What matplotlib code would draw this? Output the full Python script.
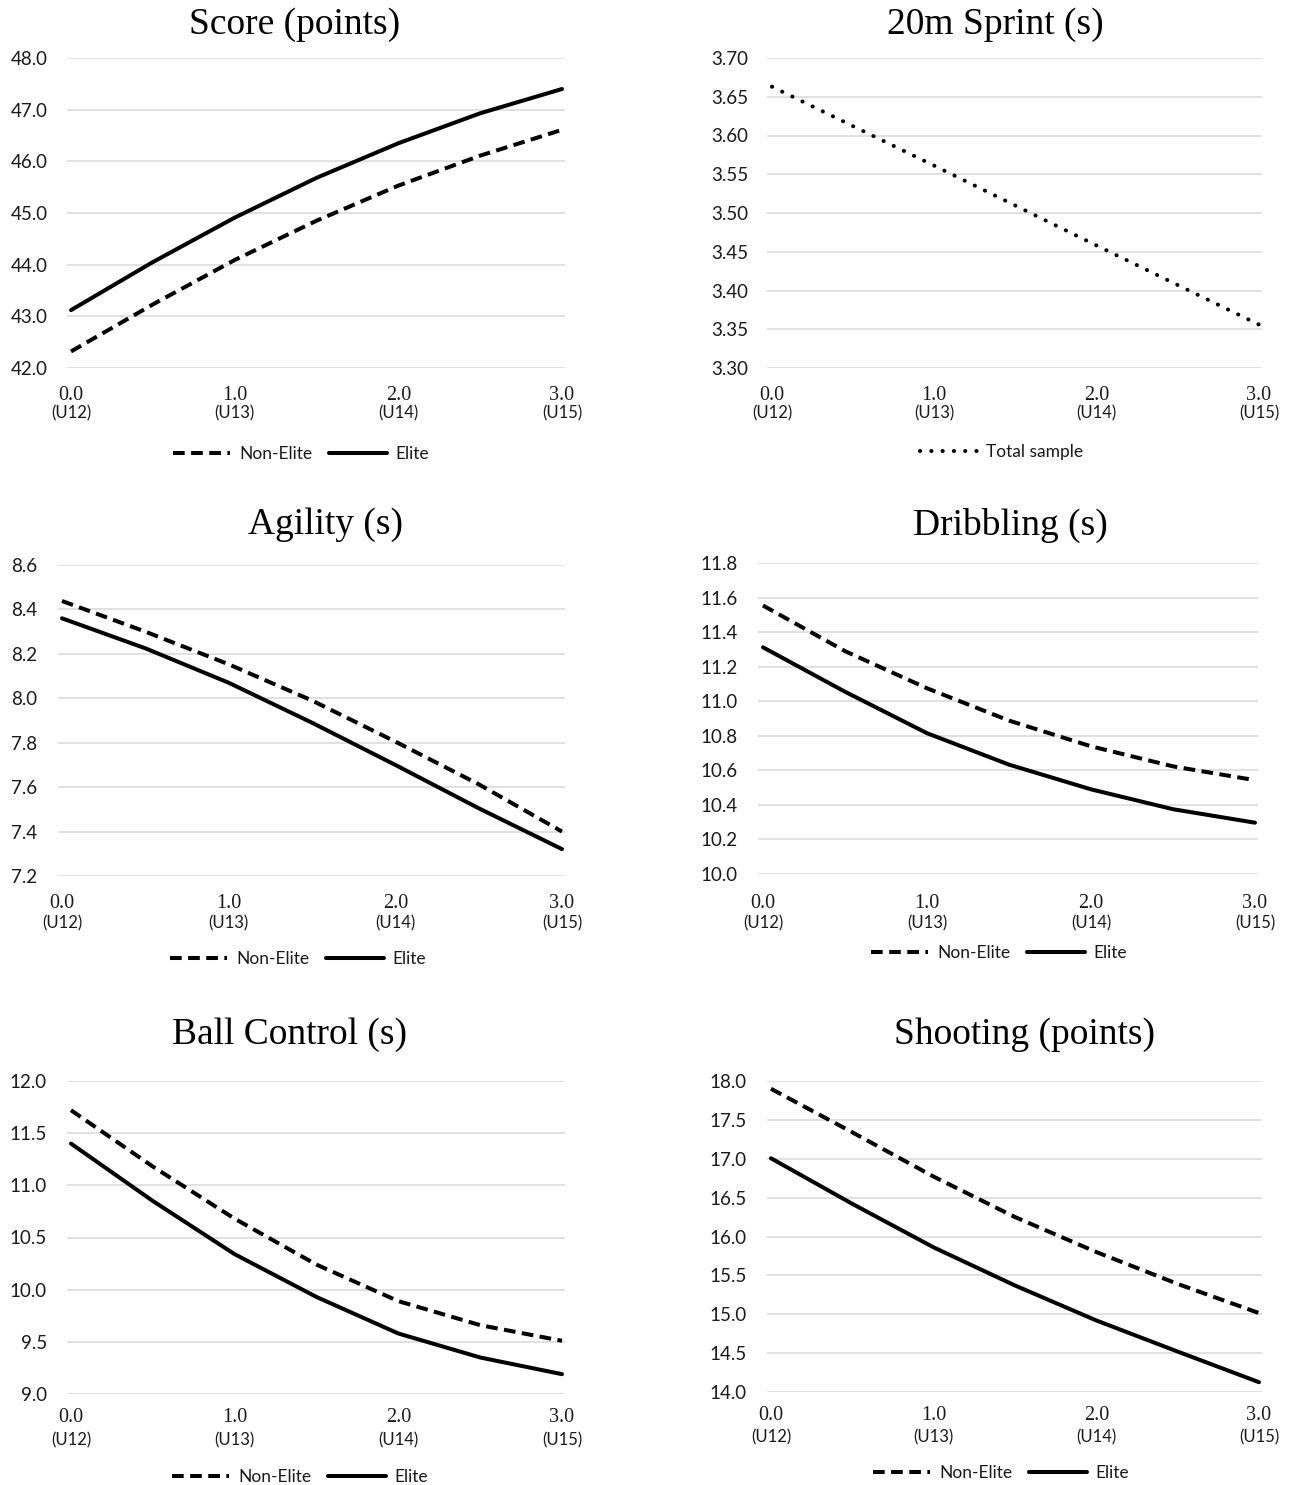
import matplotlib
matplotlib.use("Agg")
import matplotlib.pyplot as plt
from matplotlib.transforms import blended_transform_factory

W, H = 1303, 1485

# ---------------- data ----------------
x_age = [0.0, 0.5, 1.0, 1.5, 2.0, 2.5, 3.0]
xtick_values = [0, 1, 2, 3]
xtick_top = ["0.0", "1.0", "2.0", "3.0"]
xtick_bottom = ["(U12)", "(U13)", "(U14)", "(U15)"]

score_nonelite = [42.32, 43.23, 44.09, 44.85, 45.53, 46.11, 46.61]
score_elite = [43.12, 44.05, 44.91, 45.68, 46.35, 46.93, 47.40]

sprint_x = [0.0, 1.0, 2.0, 3.0]
sprint_total = [3.663, 3.561, 3.458, 3.356]

agility_nonelite = [8.438, 8.300, 8.153, 7.990, 7.805, 7.613, 7.400]
agility_elite = [8.360, 8.225, 8.070, 7.890, 7.700, 7.505, 7.321]

dribbling_nonelite = [11.554, 11.290, 11.075, 10.888, 10.739, 10.623, 10.543]
dribbling_elite = [11.312, 11.055, 10.815, 10.633, 10.490, 10.375, 10.297]

ballcontrol_nonelite = [11.72, 11.18, 10.68, 10.24, 9.89, 9.66, 9.51]
ballcontrol_elite = [11.40, 10.85, 10.34, 9.93, 9.58, 9.35, 9.19]

shooting_nonelite = [17.90, 17.34, 16.77, 16.25, 15.80, 15.39, 15.015]
shooting_elite = [17.006, 16.42, 15.86, 15.37, 14.92, 14.52, 14.126]

titles = ["Score (points)", "20m Sprint (s)", "Agility (s)", "Dribbling (s)",
          "Ball Control (s)", "Shooting (points)"]
yticks_score = [42.0, 43.0, 44.0, 45.0, 46.0, 47.0, 48.0]
yticks_sprint = [3.30, 3.35, 3.40, 3.45, 3.50, 3.55, 3.60, 3.65, 3.70]
yticks_agility = [7.2, 7.4, 7.6, 7.8, 8.0, 8.2, 8.4, 8.6]
yticks_dribbling = [10.0, 10.2, 10.4, 10.6, 10.8, 11.0, 11.2, 11.4, 11.6, 11.8]
yticks_ballcontrol = [9.0, 9.5, 10.0, 10.5, 11.0, 11.5, 12.0]
yticks_shooting = [14.0, 14.5, 15.0, 15.5, 16.0, 16.5, 17.0, 17.5, 18.0]
yfmt = ["{:.1f}", "{:.2f}", "{:.1f}", "{:.1f}", "{:.1f}", "{:.1f}"]

# ---------------- layout (pixels) ----------------
layout = [
    dict(gl=67, gr=565, x0=71, x3=562, ytop=58, ybot=368, lab_r=48, title=(295, 25), xt=(395, 413), leg=(301, 454)),
    dict(gl=767, gr=1262, x0=772, x3=1259, ytop=58, ybot=368, lab_r=748, title=(995, 25), xt=(395, 413), leg=(1002, 452)),
    dict(gl=58, gr=565, x0=62, x3=562, ytop=565, ybot=876, lab_r=37, title=(325, 525), xt=(903, 923), leg=(298, 959)),
    dict(gl=758, gr=1258, x0=763, x3=1255, ytop=563, ybot=874, lab_r=738, title=(1010, 525), xt=(903, 923), leg=(999, 953)),
    dict(gl=67, gr=565, x0=71, x3=562, ytop=1081, ybot=1394, lab_r=47, title=(290, 1035), xt=(1418, 1440), leg=(300, 1477)),
    dict(gl=767, gr=1262, x0=771, x3=1259, ytop=1081, ybot=1392, lab_r=747, title=(1025, 1035), xt=(1415, 1437), leg=(1001, 1473)),
]

panels = [
    (yticks_score, [(x_age, score_nonelite, "Non-Elite", "dash"), (x_age, score_elite, "Elite", "solid")]),
    (yticks_sprint, [(sprint_x, sprint_total, "Total sample", "dot")]),
    (yticks_agility, [(x_age, agility_nonelite, "Non-Elite", "dash"), (x_age, agility_elite, "Elite", "solid")]),
    (yticks_dribbling, [(x_age, dribbling_nonelite, "Non-Elite", "dash"), (x_age, dribbling_elite, "Elite", "solid")]),
    (yticks_ballcontrol, [(x_age, ballcontrol_nonelite, "Non-Elite", "dash"), (x_age, ballcontrol_elite, "Elite", "solid")]),
    (yticks_shooting, [(x_age, shooting_nonelite, "Non-Elite", "dash"), (x_age, shooting_elite, "Elite", "solid")]),
]

SANS = ["Lato", "DejaVu Sans"]
SERIF = ["Liberation Serif", "DejaVu Serif"]
LW = 2.9
TXT = "#1a1a1a"

def style_kwargs(kind):
    if kind == "dash":
        return dict(linestyle=(0, (2.9, 1.6)), dash_capstyle="butt", dash_joinstyle="round")
    if kind == "dot":
        return dict(linestyle=(0, (0.05, 2.75)), dash_capstyle="round")
    return dict(linestyle="-", solid_capstyle="round", solid_joinstyle="round")

fig = plt.figure(figsize=(W / 100, H / 100), dpi=100)
fig.patch.set_facecolor("white")

for i, (lay, (yticks, series)) in enumerate(zip(layout, panels)):
    left = lay["gl"] / W
    width = (lay["gr"] - lay["gl"]) / W
    bottom = 1 - lay["ybot"] / H
    height = (lay["ybot"] - lay["ytop"]) / H
    ax = fig.add_axes([left, bottom, width, height])
    s = (lay["x3"] - lay["x0"]) / 3.0
    ax.set_xlim(-(lay["x0"] - lay["gl"]) / s, 3 + (lay["gr"] - lay["x3"]) / s)
    ax.set_ylim(yticks[0], yticks[-1])
    for sp in ax.spines.values():
        sp.set_visible(False)
    ax.set_yticks(yticks)
    ax.set_yticklabels([yfmt[i].format(v) for v in yticks], fontfamily=SANS, fontsize=13.5, color=TXT)
    pad_px = lay["gl"] - lay["lab_r"]
    ax.tick_params(axis="y", length=0, pad=pad_px * 0.72)
    ax.set_xticks([])
    ax.grid(axis="y", color="#d9d9d9", linewidth=1.1)
    ax.set_axisbelow(True)
    ax.patch.set_alpha(0)

    handles = []
    for xs, ys, label, kind in series:
        kw = dict(color="black", linewidth=LW)
        kw.update(style_kwargs(kind))
        ln, = ax.plot(xs, ys, label=label, clip_on=False, **kw)
        handles.append(ln)

    tr = blended_transform_factory(ax.transData, fig.transFigure)
    for xv, t1, t2 in zip(xtick_values, xtick_top, xtick_bottom):
        ax.text(xv, 1 - lay["xt"][0] / H, t1, transform=tr, ha="center", va="center",
                fontfamily=SERIF, fontsize=14.5, color=TXT)
        ax.text(xv, 1 - lay["xt"][1] / H, t2, transform=tr, ha="center", va="center",
                fontfamily=SANS, fontsize=12, color=TXT)

    fig.text(lay["title"][0] / W, 1 - lay["title"][1] / H, titles[i], ha="center", va="center",
             fontfamily=SERIF, fontsize=27, color="black")

    leg = fig.legend(handles=handles, loc="center",
                     bbox_to_anchor=(lay["leg"][0] / W, 1 - lay["leg"][1] / H),
                     bbox_transform=fig.transFigure, ncol=len(handles), frameon=False,
                     prop=dict(family=SANS, size=12.5), handlelength=3.3, handletextpad=0.5,
                     columnspacing=1.0, borderpad=0.0, borderaxespad=0.0)
    for t in leg.get_texts():
        t.set_color(TXT)

fig.savefig("out.png", dpi=100, facecolor="white")
